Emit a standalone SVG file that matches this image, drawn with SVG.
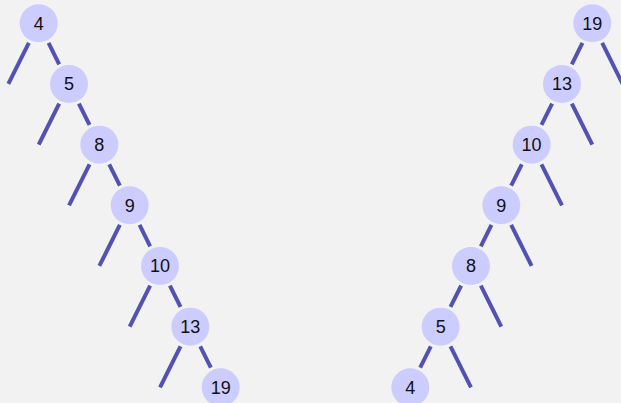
<svg xmlns="http://www.w3.org/2000/svg" width="621" height="403" viewBox="0 0 621 403">
<style>
.n circle{fill:#ccccff}
.n text{font-family:"Liberation Sans",Arial,sans-serif;font-size:18px;fill:#111;text-anchor:middle}
.e line{stroke:#5252b4;stroke-width:4;stroke-linecap:butt}
</style>
<rect width="621" height="403" fill="#f2f2f2"/>
<g id="connectors" class="e">
<line x1="48.55" y1="42.97" x2="59.18" y2="64.3"/><line x1="28.85" y1="42.97" x2="8.37" y2="83.97"/>
<line x1="78.88" y1="103.64" x2="89.51" y2="124.97"/><line x1="59.18" y1="103.64" x2="38.7" y2="144.64"/>
<line x1="109.21" y1="164.31" x2="119.84" y2="185.64"/><line x1="89.51" y1="164.31" x2="69.03" y2="205.31"/>
<line x1="139.54" y1="224.98" x2="150.17" y2="246.31"/><line x1="119.84" y1="224.98" x2="99.36" y2="265.98"/>
<line x1="169.87" y1="285.65" x2="180.5" y2="306.98"/><line x1="150.17" y1="285.65" x2="129.69" y2="326.65"/>
<line x1="200.2" y1="346.32" x2="210.83" y2="367.65"/><line x1="180.5" y1="346.32" x2="160.02" y2="387.32"/>
<line x1="582.45" y1="42.97" x2="571.82" y2="64.3"/><line x1="602.15" y1="42.97" x2="622.63" y2="83.97"/>
<line x1="552.12" y1="103.64" x2="541.49" y2="124.97"/><line x1="571.82" y1="103.64" x2="592.3" y2="144.64"/>
<line x1="521.79" y1="164.31" x2="511.16" y2="185.64"/><line x1="541.49" y1="164.31" x2="561.97" y2="205.31"/>
<line x1="491.46" y1="224.98" x2="480.83" y2="246.31"/><line x1="511.16" y1="224.98" x2="531.64" y2="265.98"/>
<line x1="461.13" y1="285.65" x2="450.5" y2="306.98"/><line x1="480.83" y1="285.65" x2="501.31" y2="326.65"/>
<line x1="430.8" y1="346.32" x2="420.17" y2="367.65"/><line x1="450.5" y1="346.32" x2="470.98" y2="387.32"/>
</g>
<g id="L4" class="n"><circle cx="38.7" cy="23.3" r="19"/><text x="38.7" y="29.8">4</text></g>
<g id="L5" class="n"><circle cx="69.03" cy="83.97" r="19"/><text x="69.03" y="90.47">5</text></g>
<g id="L8" class="n"><circle cx="99.36" cy="144.64" r="19"/><text x="99.36" y="151.14">8</text></g>
<g id="L9" class="n"><circle cx="129.69" cy="205.31" r="19"/><text x="129.69" y="211.81">9</text></g>
<g id="L10" class="n"><circle cx="160.02" cy="265.98" r="19"/><text x="160.02" y="272.48">10</text></g>
<g id="L13" class="n"><circle cx="190.35" cy="326.65" r="19"/><text x="190.35" y="333.15">13</text></g>
<g id="L19" class="n"><circle cx="220.68" cy="387.32" r="19"/><text x="220.68" y="393.82">19</text></g>
<g id="R19" class="n"><circle cx="592.3" cy="23.3" r="19"/><text x="592.3" y="29.8">19</text></g>
<g id="R13" class="n"><circle cx="561.97" cy="83.97" r="19"/><text x="561.97" y="90.47">13</text></g>
<g id="R10" class="n"><circle cx="531.64" cy="144.64" r="19"/><text x="531.64" y="151.14">10</text></g>
<g id="R9" class="n"><circle cx="501.31" cy="205.31" r="19"/><text x="501.31" y="211.81">9</text></g>
<g id="R8" class="n"><circle cx="470.98" cy="265.98" r="19"/><text x="470.98" y="272.48">8</text></g>
<g id="R5" class="n"><circle cx="440.65" cy="326.65" r="19"/><text x="440.65" y="333.15">5</text></g>
<g id="R4" class="n"><circle cx="410.32" cy="387.32" r="19"/><text x="410.32" y="393.82">4</text></g>
</svg>
